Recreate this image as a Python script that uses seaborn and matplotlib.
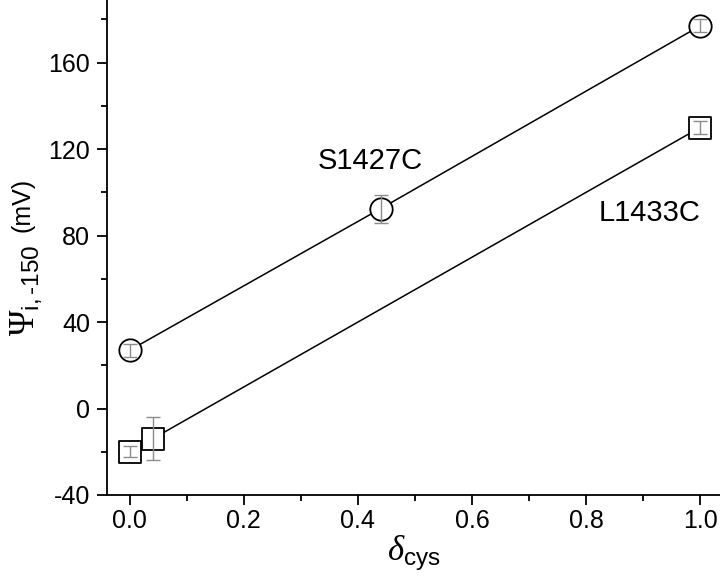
import matplotlib
matplotlib.use("Agg")
import matplotlib.pyplot as plt
import pandas as pd
import seaborn as sns
from matplotlib.ticker import MultipleLocator

# data
s_x = [0.0, 0.44, 1.0]
s_y = [27.0, 92.5, 177.0]
s_err = [3.0, 6.5, 3.0]

l_x = [0.0, 0.04, 1.0]
l_y = [-20.0, -14.0, 130.0]
l_err = [2.5, 10.0, 3.0]

x_ticks = [0.0, 0.2, 0.4, 0.6, 0.8, 1.0]
x_labels = ["0.0", "0.2", "0.4", "0.6", "0.8", "1.0"]
y_ticks = [-40, 0, 40, 80, 120, 160]
y_labels = ["-40", "0", "40", "80", "120", "160"]

sns.set_style("ticks")
plt.rcParams["font.family"] = ["Liberation Sans", "DejaVu Sans"]
plt.rcParams["text.color"] = "black"
plt.rcParams["axes.labelcolor"] = "black"
plt.rcParams["xtick.color"] = "black"
plt.rcParams["ytick.color"] = "black"
plt.rcParams["mathtext.fontset"] = "custom"
plt.rcParams["mathtext.rm"] = "Liberation Sans"
plt.rcParams["mathtext.it"] = "Liberation Serif:italic"
plt.rcParams["mathtext.sf"] = "Liberation Serif"

W, H = 720, 587
fig = plt.figure(figsize=(W / 100, H / 100), dpi=100)
ax = fig.add_axes([107 / W, 1 - 495 / H, 1 - 107 / W, 495 / H])

df_s = pd.DataFrame({"x": s_x, "y": s_y})
df_l = pd.DataFrame({"x": l_x, "y": l_y})

for df, err, mk in [(df_s, s_err, "o"), (df_l, l_err, "s")]:
    sns.lineplot(data=df, x="x", y="y", color="black", linewidth=1.1,
                 sort=False, ax=ax, zorder=2)
    sns.scatterplot(data=df, x="x", y="y", marker=mk, s=260, facecolor="white",
                    edgecolor="black", linewidth=1.3, ax=ax, zorder=3)
    ax.errorbar(df["x"], df["y"], yerr=err, fmt="none", ecolor="#8c8c8c",
                elinewidth=1.0, capsize=5, capthick=1.0, zorder=4)

ax.text(0.421, 114.5, "S1427C", fontsize=21, ha="center", va="center")
ax.text(0.912, 90.5, "L1433C", fontsize=21, ha="center", va="center")

ax.set_xlim(-0.04, 1.035)
ax.set_ylim(-40, 189)
ax.xaxis.set_minor_locator(MultipleLocator(0.1))
ax.yaxis.set_minor_locator(MultipleLocator(20))
ax.set_xticks(x_ticks)
ax.set_xticklabels(x_labels)
ax.set_yticks(y_ticks)
ax.set_yticklabels(y_labels)
ax.tick_params(which="major", direction="out", length=7, width=1.3,
               labelsize=18, color="black", labelcolor="black")
ax.tick_params(axis="y", which="major", pad=5)
ax.tick_params(axis="x", which="major", pad=3)
ax.tick_params(which="minor", direction="out", length=4.5, width=1.3, color="black")

for side in ["top", "right"]:
    ax.spines[side].set_visible(False)
for side in ["left", "bottom"]:
    ax.spines[side].set_linewidth(1.3)
    ax.spines[side].set_color("black")

ax.set_xlabel(r"$\mathit{\delta}_{\mathrm{cys}}$", fontsize=25, labelpad=1)
ax.set_ylabel("")

# y label: large serif Psi with subscript, then (mV)
fig.text(26 / W, 1 - 290 / H, r"$\mathsf{\Psi}_{\mathrm{i,\text{-}150}}$",
         fontsize=25, rotation=90, ha="center", va="center")
fig.text(22 / W, 1 - 205 / H, "(mV)", fontsize=18, rotation=90,
         ha="center", va="center")

fig.savefig("out.png", dpi=100)
